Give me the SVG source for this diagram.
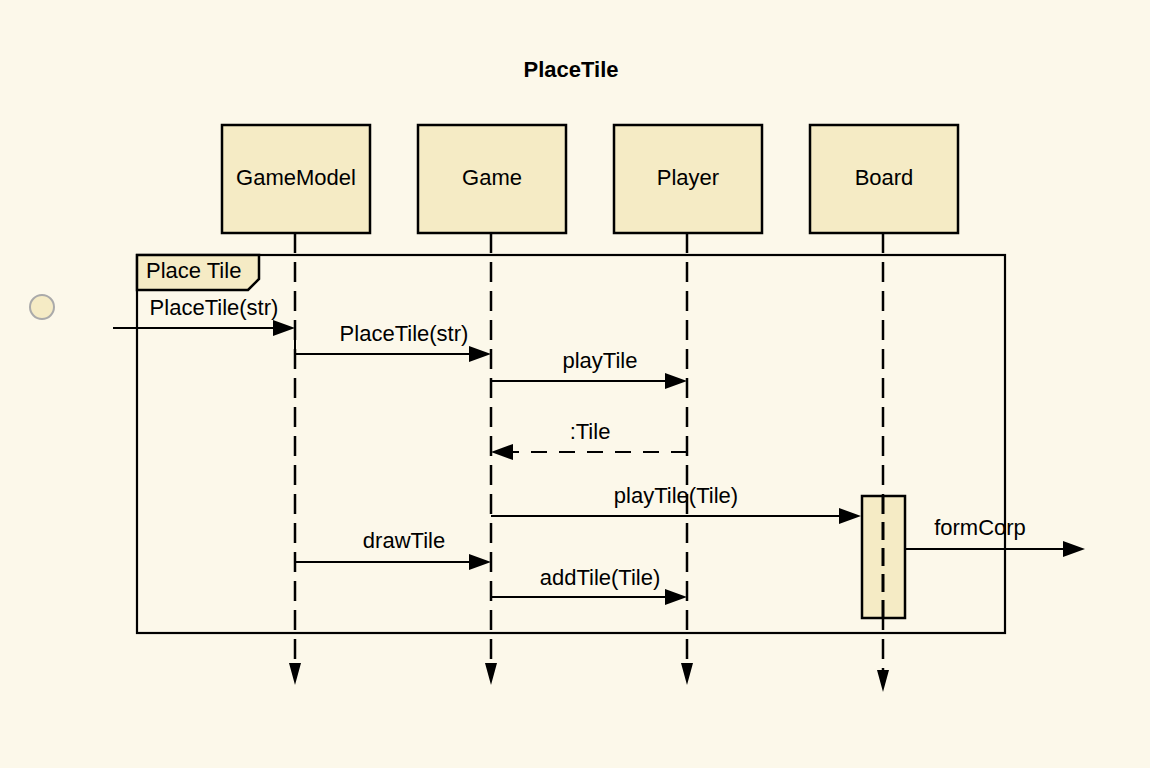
<svg xmlns="http://www.w3.org/2000/svg" width="1150" height="768" viewBox="0 0 1150 768">
<style>
.bg{fill:#fcf8ea}
.box{fill:#f5ebc5;stroke:#000;stroke-width:2.5}
.t{font-family:"Liberation Sans",Arial,sans-serif;font-size:22px;fill:#000;text-anchor:middle}
.ll{stroke:#000;stroke-width:2.5;stroke-dasharray:20,9;fill:none}
.msg{stroke:#000;stroke-width:2.2;fill:none}
.ret{stroke:#000;stroke-width:2.2;stroke-dasharray:16,12;fill:none}
.ah{fill:#000}
</style>
<rect class="bg" width="1150" height="768"/>
<text x="571" y="77" class="t" style="font-weight:bold">PlaceTile</text>

<g id="frame">
<rect x="137" y="255" width="868" height="378" fill="none" stroke="#000" stroke-width="2.2"/>
<path d="M137 255 H259 V279 L248 290 H137 Z" class="box"/>
<text x="146" y="278" class="t" style="text-anchor:start">Place Tile</text>
</g>

<g id="start">
<circle cx="42" cy="307" r="12" fill="#f5ebc5" stroke="#aaa" stroke-width="2"/>
</g>

<g id="GameModel">
<rect class="box" x="222" y="125" width="148" height="108"/>
<text x="296" y="185" class="t">GameModel</text>
</g>
<g id="Game">
<rect class="box" x="418" y="125" width="148" height="108"/>
<text x="492" y="185" class="t">Game</text>
</g>
<g id="Player">
<rect class="box" x="614" y="125" width="148" height="108"/>
<text x="688" y="185" class="t">Player</text>
</g>
<g id="Board">
<rect class="box" x="810" y="125" width="148" height="108"/>
<text x="884" y="185" class="t">Board</text>
</g>

<g id="connectors">
<line class="ll" x1="295" y1="233" x2="295" y2="665"/>
<polygon class="ah" points="289,663 301,663 295,685"/>
<line class="ll" x1="491" y1="233" x2="491" y2="665"/>
<polygon class="ah" points="485,663 497,663 491,685"/>
<line class="ll" x1="687" y1="233" x2="687" y2="665"/>
<polygon class="ah" points="681,663 693,663 687,685"/>
<line class="ll" x1="883" y1="233" x2="883" y2="672"/>
<polygon class="ah" points="877,670 889,670 883,692"/>

<rect class="box" x="862" y="496" width="43" height="122"/>
<line x1="883" y1="496" x2="883" y2="618" stroke="#000" stroke-width="3" stroke-dasharray="18,8"/>

<line class="msg" x1="113" y1="328" x2="274" y2="328"/>
<polygon class="ah" points="273,320 295,328 273,336"/>
<text x="214" y="315" class="t">PlaceTile(str)</text>

<line x1="295" y1="327" x2="295" y2="354" stroke="#000" stroke-width="2"/>
<line class="msg" x1="295" y1="354" x2="470" y2="354"/>
<polygon class="ah" points="469,346 491,354 469,362"/>
<text x="404" y="341" class="t">PlaceTile(str)</text>

<line class="msg" x1="491" y1="381" x2="666" y2="381"/>
<polygon class="ah" points="665,373 687,381 665,389"/>
<text x="600" y="368" class="t">playTile</text>

<line class="ret" x1="687" y1="452" x2="512" y2="452"/>
<polygon class="ah" points="513,444 491,452 513,460"/>
<text x="590" y="439" class="t">:Tile</text>

<line class="msg" x1="491" y1="516" x2="840" y2="516"/>
<polygon class="ah" points="839,508 861,516 839,524"/>
<text x="676" y="503" class="t">playTile(Tile)</text>

<line class="msg" x1="295" y1="562" x2="470" y2="562"/>
<polygon class="ah" points="469,554 491,562 469,570"/>
<text x="404" y="548" class="t">drawTile</text>

<line class="msg" x1="491" y1="597" x2="666" y2="597"/>
<polygon class="ah" points="665,589 687,597 665,605"/>
<text x="600" y="585" class="t">addTile(Tile)</text>

<line class="msg" x1="905" y1="549" x2="1064" y2="549"/>
<polygon class="ah" points="1063,541 1085,549 1063,557"/>
<text x="980" y="535" class="t">formCorp</text>
</g>
</svg>
